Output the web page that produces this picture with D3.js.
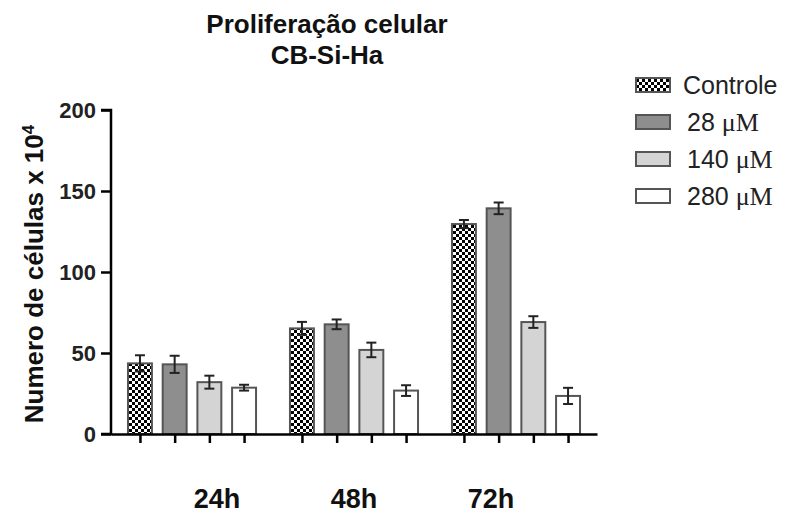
<html>
<head>
    <script src="https://cdn.jsdelivr.net/npm/d3@7"></script>
    <style>
        body { margin: 0; background: #fff; font-family: "Liberation Sans", Arial, sans-serif; }
        .axis path, .axis line { stroke: #000; stroke-width: 2.5px; }
        .axis text { font-family: "Liberation Sans", Arial, sans-serif; font-weight: bold; font-size: 22px; fill: #222; }
    </style>
</head>
<body>
    <svg id="Chart"></svg>
</body>
<script>
    // data
    let groups = ["24h", "48h", "72h"]
    let series = ["Controle", "28", "140", "280"]
    let controle = [43.6, 65.2, 129.6]
    let controleErr = [5, 4, 2.5]
    let m28 = [43, 67.7, 139.3]
    let m28Err = [5.3, 3, 3.6]
    let m140 = [32, 51.9, 69.1]
    let m140Err = [4, 4.5, 3.6]
    let m280 = [28.6, 26.8, 23.5]
    let m280Err = [1.8, 3.3, 5]
    let yTicks = [0, 50, 100, 150, 200]

    let values = [controle, m28, m140, m280]
    let errors = [controleErr, m28Err, m140Err, m280Err]
    let fills = ["url(#checker)", "#8e8e8e", "#d4d4d4", "#ffffff"]

    function getConfig() {
        let width = 786
        let height = 515
        let margin = { top: 110, bottom: 81, left: 111, right: 189 }
        let container = d3.select("#Chart")
            .attr("width", width)
            .attr("height", height)
        return { width, height, margin, container }
    }

    function getScales(config) {
        let { margin, height } = config
        let yScale = d3.scaleLinear()
            .domain([0, 200])
            .range([height - margin.bottom, margin.top])
        let xGroup = d3.scaleBand()
            .domain(groups)
            .range([122.6, 585.4])
            .paddingInner(0.143)
            .paddingOuter(0)
        let xSeries = d3.scaleBand()
            .domain(series)
            .range([0, xGroup.bandwidth()])
            .paddingInner(0.31)
            .paddingOuter(0.155)
        // the time labels sit a little off the group centres in the original
        let xLabel = d3.scalePoint()
            .domain(groups)
            .range([217, 491])
        return { yScale, xGroup, xSeries, xLabel }
    }

    function drawDefs(config) {
        let defs = config.container.append("defs")
        let p = defs.append("pattern")
            .attr("id", "checker")
            .attr("width", 6).attr("height", 6)
            .attr("patternUnits", "userSpaceOnUse")
        p.append("rect").attr("width", 6).attr("height", 6).attr("fill", "#fff")
        p.append("rect").attr("width", 3).attr("height", 3).attr("fill", "#000")
        p.append("rect").attr("x", 3).attr("y", 3).attr("width", 3).attr("height", 3).attr("fill", "#000")
    }

    function drawBars(config, scales) {
        let { container } = config
        let { yScale, xGroup, xSeries } = scales
        let rows = []
        groups.forEach((g, gi) => {
            series.forEach((s, si) => {
                rows.push({ g, s, si, v: values[si][gi], e: errors[si][gi] })
            })
        })
        let body = container.append("g")
        body.selectAll(".bar")
            .data(rows)
            .enter().append("rect")
            .attr("class", "bar")
            .attr("x", d => xGroup(d.g) + xSeries(d.s))
            .attr("width", xSeries.bandwidth())
            .attr("y", d => yScale(d.v))
            .attr("height", d => yScale(0) - yScale(d.v))
            .attr("fill", d => fills[d.si])
            .attr("stroke", "#555")
            .attr("stroke-width", 2)

        let cx = d => xGroup(d.g) + xSeries(d.s) + xSeries.bandwidth() / 2
        let err = body.selectAll(".err")
            .data(rows)
            .enter().append("g")
            .attr("class", "err")
            .attr("stroke", "#222")
            .attr("stroke-width", 2)
        err.append("line")
            .attr("x1", cx).attr("x2", cx)
            .attr("y1", d => yScale(d.v + d.e))
            .attr("y2", d => yScale(d.v - d.e))
        err.append("line")
            .attr("x1", d => cx(d) - 5).attr("x2", d => cx(d) + 5)
            .attr("y1", d => yScale(d.v + d.e))
            .attr("y2", d => yScale(d.v + d.e))
        err.append("line")
            .attr("x1", d => cx(d) - 5).attr("x2", d => cx(d) + 5)
            .attr("y1", d => yScale(d.v - d.e))
            .attr("y2", d => yScale(d.v - d.e))
    }

    function drawAxes(config, scales) {
        let { container, margin } = config
        let { yScale, xGroup, xSeries, xLabel } = scales
        let axisY = d3.axisLeft(yScale)
            .tickValues(yTicks)
            .tickSize(10)
            .tickPadding(5)
        container.append("g")
            .attr("class", "axis")
            .attr("transform", `translate(${margin.left},0)`)
            .call(axisY)
            .call(g => g.select(".domain").attr("d", `M-10,${yScale(200)}H0V${yScale(0)}H-10`))
            .selectAll("text").attr("dy", "0.36em")

        // bottom axis with a small tick under every bar
        let barCenters = []
        groups.forEach(g => series.forEach(s => barCenters.push(xGroup(g) + xSeries(s) + xSeries.bandwidth() / 2)))
        let xLine = d3.scaleLinear().domain([margin.left, 597]).range([margin.left, 597])
        let axisX = d3.axisBottom(xLine)
            .tickValues(barCenters)
            .tickSize(9)
            .tickSizeOuter(0)
            .tickFormat("")
        container.append("g")
            .attr("class", "axis")
            .attr("transform", `translate(0,${yScale(0)})`)
            .call(axisX)

        container.append("g")
            .selectAll("text")
            .data(groups)
            .enter().append("text")
            .attr("x", d => xLabel(d))
            .attr("y", 508)
            .attr("text-anchor", "middle")
            .attr("font-weight", "bold")
            .attr("font-size", 27)
            .attr("fill", "#111")
            .text(d => d)

        let yl = container.append("text")
            .attr("transform", `translate(43,${(yScale(0) + yScale(200)) / 2 + 2}) rotate(-90)`)
            .attr("text-anchor", "middle")
            .attr("font-weight", "bold")
            .attr("font-size", 26)
            .attr("fill", "#111")
        yl.append("tspan").text("Numero de células x 10")
        yl.append("tspan").attr("baseline-shift", "super").attr("font-size", 17).text("4")
    }

    function drawTitle(config) {
        let t = config.container.append("g")
            .attr("font-weight", "bold")
            .attr("font-size", 26)
            .attr("text-anchor", "middle")
            .attr("fill", "#111")
        t.append("text").attr("x", 327).attr("y", 33).text("Proliferação celular")
        t.append("text").attr("x", 327).attr("y", 64).text("CB-Si-Ha")
    }

    function drawLegend(config) {
        let leg = config.container.append("g")
            .attr("transform", "translate(636,85)")
        let items = leg.selectAll(".item")
            .data(series)
            .enter().append("g")
            .attr("class", "item")
            .attr("transform", (d, i) => `translate(0,${i * 37})`)
        items.append("rect")
            .attr("x", 0).attr("y", -7)
            .attr("width", 34).attr("height", 14)
            .attr("fill", (d, i) => fills[i])
            .attr("stroke", "#555")
            .attr("stroke-width", 2)
        let txt = items.append("text")
            .attr("x", d => d === "Controle" ? 47 : 51).attr("y", 9)
            .attr("font-size", 25)
            .attr("fill", "#222")
        txt.append("tspan").text(d => d === "Controle" ? d : d + " ")
        txt.filter(d => d !== "Controle").append("tspan")
            .attr("font-family", "'Liberation Serif', 'Times New Roman', serif")
            .attr("font-size", 26)
            .text("μM")
    }

    let config = getConfig()
    let scales = getScales(config)
    drawDefs(config)
    drawTitle(config)
    drawBars(config, scales)
    drawAxes(config, scales)
    drawLegend(config)
</script>
</html>
